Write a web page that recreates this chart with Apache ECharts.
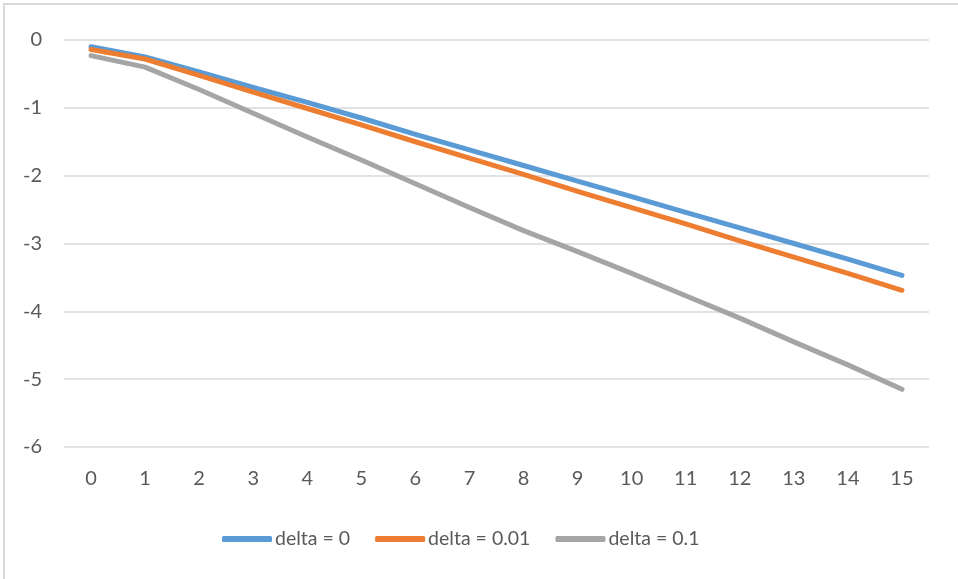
<!DOCTYPE html>
<html>
<head>
<meta charset="utf-8">
<script src="https://cdn.jsdelivr.net/npm/echarts@6/dist/echarts.min.js"></script>
<style>
html,body{margin:0;padding:0;background:#fff;}
#chart{width:958px;height:579px;}
</style>
</head>
<body>
<div id="chart"></div>
<script>
const categories = ['0','1','2','3','4','5','6','7','8','9','10','11','12','13','14','15'];
const delta0 = [-0.10,-0.25,-0.47,-0.70,-0.92,-1.15,-1.39,-1.62,-1.85,-2.08,-2.31,-2.54,-2.77,-3.00,-3.23,-3.47];
const delta001 = [-0.14,-0.28,-0.52,-0.77,-1.01,-1.25,-1.50,-1.74,-1.98,-2.23,-2.47,-2.71,-2.96,-3.20,-3.44,-3.69];
const delta01 = [-0.23,-0.40,-0.73,-1.08,-1.43,-1.77,-2.12,-2.47,-2.81,-3.12,-3.44,-3.77,-4.10,-4.45,-4.79,-5.15];
const seriesNames = ['delta = 0','delta = 0.01','delta = 0.1'];
const colors = ['#5B9BD5','#ED7D31','#A5A5A5'];

const chart = echarts.init(document.getElementById('chart'), null, {renderer:'canvas'});
const font = 'Lato';
const mk = (name, data, color) => ({
  name, type:'line', data, symbol:'none', smooth:false,
  lineStyle:{width:5, color, cap:'round', join:'round'},
  itemStyle:{color}
});
chart.setOption({
  animation:false,
  backgroundColor:'#ffffff',
  color: colors,
  graphic:[{type:'rect', shape:{x:4,y:4,width:1000,height:1000}, style:{fill:'none', stroke:'#d9d9d9', lineWidth:2}, silent:true}],
  grid:{left:64, right:29, top:40, bottom:132, containLabel:false},
  xAxis:{
    type:'category', data:categories, boundaryGap:true,
    axisLine:{show:false}, axisTick:{show:false},
    axisLabel:{color:'#595959', fontFamily:font, fontSize:20, margin:22}
  },
  yAxis:{
    type:'value', min:-6, max:0, interval:1,
    axisLine:{show:false}, axisTick:{show:false},
    axisLabel:{color:'#595959', fontFamily:font, fontSize:20, margin:22},
    splitLine:{lineStyle:{color:'#d9d9d9', width:1.5}}
  },
  legend:{
    left:217, top:524, itemWidth:50, itemHeight:6, itemGap:25,
    icon:'roundRect',
    textStyle:{color:'#595959', fontFamily:font, fontSize:19.5, padding:[0,0,0,-2]},
    data:seriesNames
  },
  series:[mk(seriesNames[0], delta0, colors[0]), mk(seriesNames[1], delta001, colors[1]), mk(seriesNames[2], delta01, colors[2])]
});
</script>
</body>
</html>
